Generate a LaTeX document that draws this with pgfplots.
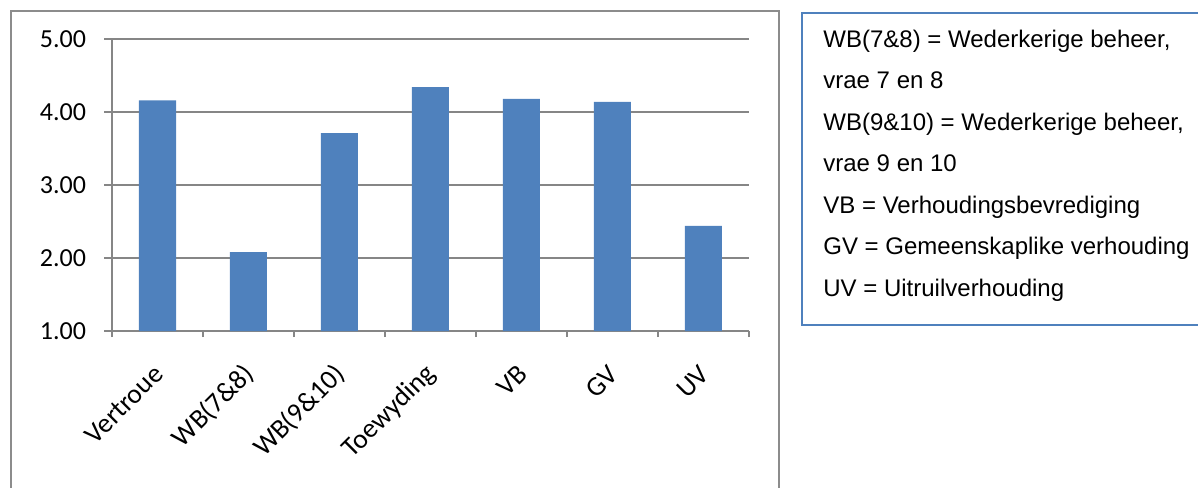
\documentclass[border=0pt]{standalone}
\usepackage{pgfplots}
\pgfplotsset{compat=1.18}
\usepackage{fontspec}
\setmainfont{Carlito}
\newfontfamily\arial{Liberation Sans}
\definecolor{officeblue}{RGB}{79,129,189}
\definecolor{gridgray}{RGB}{134,134,134}
\definecolor{framegray}{RGB}{140,140,140}
\begin{document}
\begin{tikzpicture}[x=0.5pt,y=-0.5pt]
\useasboundingbox (0,0) rectangle (1198,487);
\draw[framegray, line width=1.1pt] (11,520) -- (11,11) -- (779,11) -- (779,520);
\draw[officeblue, line width=0.7pt] (802,13) rectangle (1215,325);
\foreach \t [count=\i from 0] in {{WB(7\&8) = Wederkerige beheer,},{vrae 7 en 8},{WB(9\&10) = Wederkerige beheer,},{vrae 9 en 10},{VB = Verhoudingsbevrediging},{GV = Gemeenskaplike verhouding},{UV = Uitruilverhouding}}
  \node[anchor=base west, inner sep=0pt, font=\arial\fontsize{12}{14}\selectfont] at (823,{47+41.5*\i}) {\t};
\begin{axis}[
  at={(56pt,-165.5pt)}, anchor=south west,
  scale only axis, width=318.5pt, height=146pt,
  xmin=-0.5, xmax=6.5, ymin=1, ymax=5,
  ybar, bar width=18.5pt,
  axis lines*=left,
  axis line style={-, draw=gridgray, line width=0.6pt},
  xtick={0,...,6},
  xticklabels={Vertroue, WB(7\&8), WB(9\&10), Toewyding, VB, GV, UV},
  minor xtick={-0.5,0.5,...,6.5},
  ytick={1,2,3,4,5},
  /pgf/number format/assume math mode=true,
  yticklabel={\pgfmathprintnumber[fixed,fixed zerofill,precision=2]{\tick}},
  ymajorgrids,
  grid style={gridgray, line width=0.6pt},
  tick align=outside,
  major tick length=4pt,
  minor tick length=3pt,
  every major x tick/.append style={draw=none},
  tick style={gridgray, line width=0.6pt},
  every minor tick/.append style={gridgray, line width=0.6pt},
  yticklabel style={font=\fontsize{13}{15}\selectfont, xshift=-5.5pt},
  xticklabel style={font=\fontsize{13.7}{16}\selectfont, rotate=45, anchor=east, xshift=-7pt, yshift=-11.3pt},
]
\addplot[fill=officeblue, draw=none] coordinates {(0,4.16) (1,2.08) (2,3.71) (3,4.34) (4,4.18) (5,4.14) (6,2.44)};
\end{axis}
\end{tikzpicture}
\end{document}
